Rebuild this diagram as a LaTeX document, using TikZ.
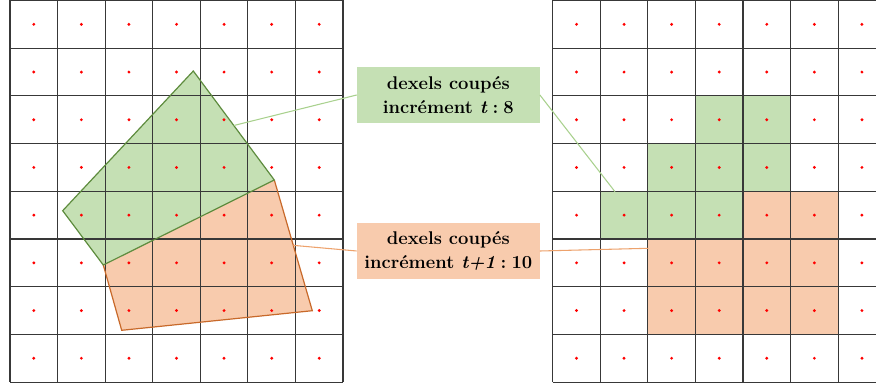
\documentclass[tikz,border=0pt]{standalone}
\usepackage{amsmath}
\usetikzlibrary{calc}
\definecolor{vertclair}{HTML}{C5E0B4}
\definecolor{vertfonce}{HTML}{5E8C3E}
\definecolor{vertlien}{HTML}{A9D18E}
\definecolor{orangeclair}{HTML}{F8CBAD}
\definecolor{orangefonce}{HTML}{C8692A}
\definecolor{orangelien}{HTML}{EDA26C}

\begin{document}
\begin{tikzpicture}[x=0.75pt, y=-0.75pt,
    grille/.style = {line width=0.9pt, black!78},
    boite/.style = {fill, minimum width=137pt, minimum height=42.5pt, align=center,
        font=\fontsize{13.8}{18.5}\selectfont\bfseries}]
    % frame
    \path[use as bounding box](0,0)rectangle(876,385);
    \clip(0,0)rectangle(876,385);
    % points
    \coordinate(gT)at(193.3,71);
    \coordinate(gR)at(274.3,180);
    \coordinate(gB)at(103.3,265);
    \coordinate(gL)at(62.7,210.7);
    \coordinate(oR)at(312.3,310.7);
    \coordinate(oB)at(121.7,330.3);
    % increment t and t+1 (left)
    \path[fill = vertclair](gT)--(gR)--(gB)--(gL)--cycle;
    \path[fill = orangeclair](gB)--(gR)--(oR)--(oB)--cycle;
    % dexels (right)
    \foreach \c/\r in {3/2,4/2,2/3,3/3,4/3,1/4,2/4,3/4}
        \path[fill = vertclair](552.7+\c*47.57,0.5+\r*47.7)rectangle++(47.57,47.7);
    \foreach \c/\r in {4/4,5/4,2/5,3/5,4/5,5/5,2/6,3/6,4/6,5/6}
        \path[fill = orangeclair](552.7+\c*47.57,0.5+\r*47.7)rectangle++(47.57,47.7);
    % grids
    \foreach \g in {10,552.7}{
        \foreach \i in {0,...,7}
            \path[draw, grille](\g+\i*47.57,0.5)to++(0,381.6);
        \foreach \j in {0,...,8}
            \path[draw, grille](\g,0.5+\j*47.7)to++(333,0);
        \foreach \i in {0,...,6}
            \foreach \j in {0,...,7}
                \path[fill = red](\g+23.8+\i*47.57,0.5+23.85+\j*47.7)circle(1.6);
    }
    \path[draw, grille](886,0.5)to++(0,381.6);
    % outlines
    \path[draw, orangefonce, line width=0.9pt](gR)--(oR)--(oB)--(gB);
    \path[draw, vertfonce, line width=0.9pt](gT)--(gR)--(gB)--(gL)--cycle;
    % labels
    \node[boite, vertclair](boxT)at(448.3,95){\color{black}dexels coupés\\\color{black}incrément \textit{t}\;:\;8};
    \node[boite, orangeclair](boxT1)at(448.3,251){\color{black}dexels coupés\\\color{black}incrément \textit{t+1}\;:\;10};
    % links
    \coordinate(gA)at($(gT)!0.5!(gR)$);
    \coordinate(gZ)at(615,191.7);
    \coordinate(oA)at($(gR)!0.5!(oR)$);
    \coordinate(oZ)at(648.3,248.3);
    \path[draw, vertlien, line width=0.8pt](gA)to(boxT.west);
    \path[draw, vertlien, line width=0.8pt](boxT.east)to(gZ);
    \path[draw, orangelien, line width=0.8pt](oA)to(boxT1.west);
    \path[draw, orangelien, line width=0.8pt](boxT1.east)to(oZ);
\end{tikzpicture}
\end{document}
